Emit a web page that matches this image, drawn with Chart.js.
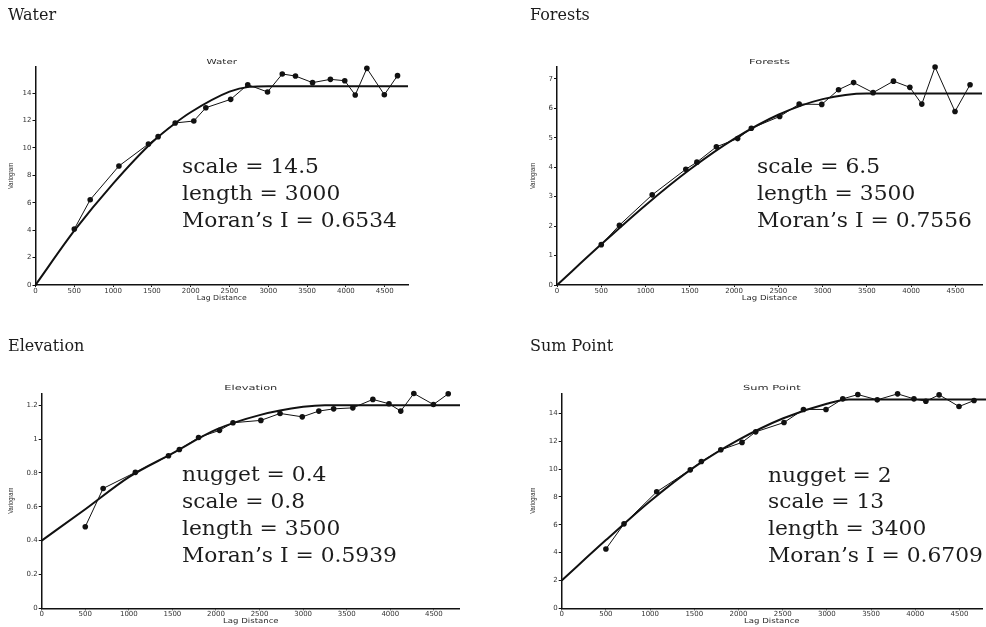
<!DOCTYPE html>
<html><head><meta charset="utf-8">
<script src="https://cdn.jsdelivr.net/npm/chart.js@4.4.0/dist/chart.umd.min.js"></script>
<style>
html,body{margin:0;padding:0;background:#fff;}
#wrap{position:relative;width:986px;height:627px;overflow:hidden;background:#fff;}
canvas{position:absolute;left:0;top:0;}
</style></head><body>
<div id="wrap">
<canvas id="c1" width="986" height="627"></canvas>
<canvas id="c2" width="986" height="627"></canvas>
<canvas id="c3" width="986" height="627"></canvas>
<canvas id="c4" width="986" height="627"></canvas>
</div>
<script>
// ---- data ----
const lags = [500,705,1075,1455,1580,1800,2040,2195,2515,2735,2990,3180,3350,3570,3800,3985,4120,4270,4495,4665];
const waterValues = [4.08,6.22,8.68,10.28,10.82,11.82,11.96,12.93,13.54,14.61,14.08,15.39,15.24,14.76,15.0,14.9,13.86,15.8,13.88,15.27];
const forestsValues = [1.37,2.03,3.06,3.93,4.17,4.69,4.97,5.32,5.72,6.14,6.13,6.63,6.87,6.53,6.92,6.71,6.14,7.40,5.89,6.80];
const elevationValues = [0.482,0.708,0.803,0.901,0.938,1.009,1.051,1.096,1.110,1.151,1.131,1.165,1.178,1.184,1.234,1.208,1.165,1.269,1.204,1.267];
const sumPointValues = [4.26,6.07,8.37,9.95,10.55,11.39,11.92,12.68,13.35,14.29,14.29,15.05,15.36,14.98,15.41,15.05,14.88,15.34,14.50,14.93];

// fitted model curves
const waterCurveX = [0,500,1000,1500,1800,2000,2500,2750,3000,4800];
const waterCurveY = [0,3.96,7.4,10.4,11.8,12.6,14.1,14.45,14.5,14.5];
const forestsCurveX = [0,500,1000,1500,2000,2500,3000,3500,4800];
const forestsCurveY = [0,1.38,2.71,3.92,4.96,5.78,6.31,6.5,6.5];
const elevationCurveX = [0,500,1000,1500,2000,2500,3000,3250,4800];
const elevationCurveY = [0.4,0.585,0.775,0.915,1.055,1.141,1.19,1.2,1.2];
const sumPointCurveX = [0,500,1000,1500,2000,2500,3000,3250,4800];
const sumPointCurveY = [2,4.9,7.7,10.15,12.1,13.64,14.7,15,15];

// tick labels
const xTicks = [0,500,1000,1500,2000,2500,3000,3500,4000,4500];
const waterYTicks = [0,2,4,6,8,10,12,14];
const forestsYTicks = [0,1,2,3,4,5,6,7];
const elevationYTicks = [0,0.2,0.4,0.6,0.8,1,1.2];
const sumPointYTicks = [0,2,4,6,8,10,12,14];

// texts
const outerTitles = ['Water','Forests','Elevation','Sum Point'];
const waterNotes = ['scale = 14.5','length = 3000','Moran\u2019s I = 0.6534'];
const forestsNotes = ['scale = 6.5','length = 3500','Moran\u2019s I = 0.7556'];
const elevationNotes = ['nugget = 0.4','scale = 0.8','length = 3500','Moran\u2019s I = 0.5939'];
const sumPointNotes = ['nugget = 2','scale = 13','length = 3400','Moran\u2019s I = 0.6709'];

function stretchText(ctx, text, x, y, sx, font, align, rot) {
  ctx.save();
  ctx.translate(x, y);
  if (rot) ctx.rotate(rot);
  ctx.scale(sx, 1);
  ctx.font = font;
  ctx.textAlign = align;
  ctx.fillText(text, 0, 0);
  ctx.restore();
}

const textPlugin = {
  id: 'panelText',
  afterDraw(chart, args, o) {
    const ctx = chart.ctx, ca = chart.chartArea;
    ctx.save();
    ctx.fillStyle = '#1c1c1c';
    ctx.textBaseline = 'alphabetic';
    ctx.font = '16px "DejaVu Serif"';
    ctx.textAlign = 'left';
    ctx.fillText(o.outer, o.outerX, o.outerY);
    ctx.fillStyle = '#2a2a2a';
    stretchText(ctx, o.outer, (ca.left + ca.right) / 2, ca.top - 3, o.innerSx, '7px "DejaVu Sans"', 'center');
    ctx.textBaseline = 'middle';
    stretchText(ctx, 'Lag Distance', (ca.left + ca.right) / 2, ca.bottom + 13, o.xTitleSx, '7px "DejaVu Sans"', 'center');
    stretchText(ctx, 'Variogram', o.yTitleX, (ca.top + ca.bottom) / 2, 0.72, '8px "Liberation Sans"', 'center', -Math.PI / 2);
    ctx.textBaseline = 'alphabetic';
    ctx.fillStyle = '#1c1c1c';
    o.notes.forEach((t, i) => {
      stretchText(ctx, t, o.noteX, o.noteY + i * o.noteGap, 1.09, '20px "DejaVu Serif"', 'left');
    });
    ctx.restore();
  }
};

function makeChart(id, cfg) {
  const yW = 30, xH = 12;
  const tickFont = {family: 'DejaVu Sans', size: 7};
  return new Chart(document.getElementById(id), {
    type: 'scatter',
    data: {datasets: [
      {data: lags.map((x, i) => ({x, y: cfg.values[i]})), showLine: true, borderColor: '#111',
       borderWidth: 1, pointRadius: 2.8, pointBackgroundColor: '#111', pointBorderWidth: 0, clip: false},
      {data: cfg.curveX.map((x, i) => ({x, y: cfg.curveY[i]})), showLine: true, borderColor: '#111',
       borderWidth: 2, pointRadius: 0, cubicInterpolationMode: 'monotone', clip: false}
    ]},
    options: {
      responsive: false, animation: false, events: [],
      layout: {padding: {left: cfg.L - yW, right: 986 - cfg.R, top: cfg.T, bottom: 627 - cfg.B - xH}},
      plugins: {legend: {display: false}, tooltip: {enabled: false}, panelText: cfg.text},
      scales: {
        x: {type: 'linear', min: 0, max: cfg.xMax,
            afterFit(s) { s.height = xH; },
            afterBuildTicks(s) { s.ticks = xTicks.map(v => ({value: v})); },
            ticks: {font: tickFont, color: '#333', padding: 0, maxRotation: 0, autoSkip: false, callback: v => String(v)},
            grid: {display: true, drawOnChartArea: false, drawTicks: true, tickLength: 2, color: '#111', tickColor: '#111'},
            border: {display: true, color: '#111', width: 1.5}},
        y: {type: 'linear', min: 0, max: cfg.yMax,
            afterFit(s) { s.width = yW; },
            afterBuildTicks(s) { s.ticks = cfg.yTicks.map(v => ({value: v})); },
            ticks: {font: tickFont, color: '#333', padding: 1, autoSkip: false, callback: v => String(v)},
            grid: {display: true, drawOnChartArea: false, drawTicks: true, tickLength: 3, color: '#111', tickColor: '#111'},
            border: {display: true, color: '#111', width: 1.5}}
      }
    },
    plugins: [textPlugin]
  });
}

makeChart('c1', {values: waterValues, curveX: waterCurveX, curveY: waterCurveY, yTicks: waterYTicks,
  L: 35.5, R: 408, T: 67, B: 285, xMax: 4800, yMax: 15.9,
  text: {outer: outerTitles[0], outerX: 8, outerY: 20, innerSx: 1.47, xTitleSx: 1.1, yTitleX: 11,
         notes: waterNotes, noteX: 182, noteY: 172.7, noteGap: 27.3}});
makeChart('c2', {values: forestsValues, curveX: forestsCurveX, curveY: forestsCurveY, yTicks: forestsYTicks,
  L: 557, R: 985, T: 67, B: 285, xMax: 4800, yMax: 7.4,
  text: {outer: outerTitles[1], outerX: 530, outerY: 20, innerSx: 1.63, xTitleSx: 1.22, yTitleX: 533,
         notes: forestsNotes, noteX: 757, noteY: 172.7, noteGap: 27.3}});
makeChart('c3', {values: elevationValues, curveX: elevationCurveX, curveY: elevationCurveY, yTicks: elevationYTicks,
  L: 41.7, R: 460, T: 393.3, B: 608.3, xMax: 4800, yMax: 1.27,
  text: {outer: outerTitles[2], outerX: 8, outerY: 351, innerSx: 1.63, xTitleSx: 1.22, yTitleX: 11,
         notes: elevationNotes, noteX: 182, noteY: 480.7, noteGap: 27.0}});
makeChart('c4', {values: sumPointValues, curveX: sumPointCurveX, curveY: sumPointCurveY, yTicks: sumPointYTicks,
  L: 561.7, R: 986, T: 393.3, B: 608.3, xMax: 4755, yMax: 15.45,
  text: {outer: outerTitles[3], outerX: 530, outerY: 351, innerSx: 1.63, xTitleSx: 1.22, yTitleX: 532.5,
         notes: sumPointNotes, noteX: 768, noteY: 481.7, noteGap: 26.7}});
</script>
</body></html>
